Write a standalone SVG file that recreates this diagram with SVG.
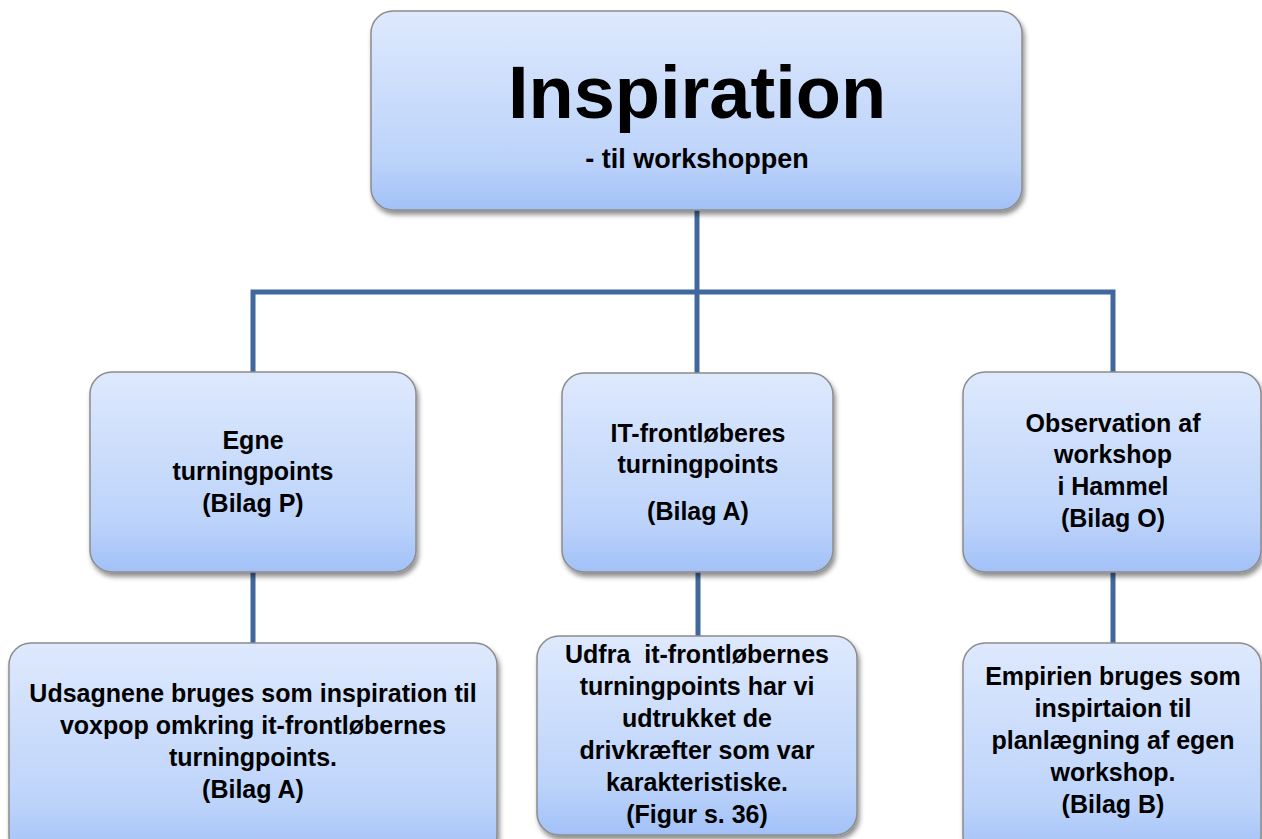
<svg xmlns="http://www.w3.org/2000/svg" width="1262" height="839" viewBox="0 0 1262 839">
<defs>
<linearGradient id="g" x1="0" y1="0" x2="0" y2="1">
<stop offset="0" stop-color="#dee9fd"/>
<stop offset="0.75" stop-color="#bcd3fa"/>
<stop offset="1" stop-color="#a2c1f8"/>
</linearGradient>
<filter id="sh" x="-10%" y="-10%" width="125%" height="130%">
<feGaussianBlur in="SourceAlpha" stdDeviation="2.5"/>
<feOffset dx="2" dy="4" result="b"/>
<feComponentTransfer><feFuncA type="linear" slope="0.45"/></feComponentTransfer>
<feMerge><feMergeNode/><feMergeNode in="SourceGraphic"/></feMerge>
</filter>
</defs>
<style>
.box{fill:url(#g);stroke:#8c8c8c;stroke-width:1.5;filter:url(#sh)}
.t{font-family:"Liberation Sans",Arial,sans-serif;font-weight:bold;font-size:25px;fill:#000;text-anchor:middle}
.c{stroke:#41689d;stroke-width:5;fill:none}
</style>
<rect width="1262" height="839" fill="#ffffff"/>
<g id="connectors">
<path class="c" d="M697 209 V292"/>
<path class="c" d="M253 372 V292 H1113 V372"/>
<path class="c" d="M697 292 V373"/>
<path class="c" d="M253 572 V643"/>
<path class="c" d="M698 572 V636"/>
<path class="c" d="M1113 572 V643"/>
</g>
<g id="root">
<rect class="box" x="371" y="11" width="651" height="199" rx="22"/>
<text class="t" x="697" y="118" style="font-size:74px">Inspiration</text>
<text class="t" x="697" y="168" style="font-size:27px">- til workshoppen</text>
</g>
<g id="egne">
<rect class="box" x="90" y="372" width="326" height="200" rx="22"/>
<text class="t" x="253" y="449">Egne</text>
<text class="t" x="253" y="480">turningpoints</text>
<text class="t" x="253" y="512">(Bilag P)</text>
</g>
<g id="itfront">
<rect class="box" x="562" y="373" width="271" height="199" rx="22"/>
<text class="t" x="698" y="442">IT-frontløberes</text>
<text class="t" x="698" y="473">turningpoints</text>
<text class="t" x="698" y="520">(Bilag A)</text>
</g>
<g id="observation">
<rect class="box" x="963" y="372" width="298" height="200" rx="22"/>
<text class="t" x="1113" y="432">Observation af</text>
<text class="t" x="1113" y="463">workshop</text>
<text class="t" x="1113" y="495">i Hammel</text>
<text class="t" x="1113" y="527">(Bilag O)</text>
</g>
<g id="udsagn">
<rect class="box" x="9" y="643" width="488" height="215" rx="22"/>
<text class="t" x="253" y="702">Udsagnene bruges som inspiration til</text>
<text class="t" x="253" y="734">voxpop omkring it-frontløbernes</text>
<text class="t" x="253" y="766">turningpoints.</text>
<text class="t" x="253" y="798">(Bilag A)</text>
</g>
<g id="udfra">
<rect class="box" x="537" y="636" width="320" height="199" rx="22"/>
<text class="t" x="697" y="663" xml:space="preserve">Udfra  it-frontløbernes</text>
<text class="t" x="697" y="695">turningpoints har vi</text>
<text class="t" x="697" y="727">udtrukket de</text>
<text class="t" x="697" y="759">drivkræfter som var</text>
<text class="t" x="697" y="791">karakteristiske.</text>
<text class="t" x="697" y="823">(Figur s. 36)</text>
</g>
<g id="empirien">
<rect class="box" x="963" y="643" width="298" height="215" rx="22"/>
<text class="t" x="1113" y="685">Empirien bruges som</text>
<text class="t" x="1113" y="717">inspirtaion til</text>
<text class="t" x="1113" y="749">planlægning af egen</text>
<text class="t" x="1113" y="781">workshop.</text>
<text class="t" x="1113" y="813">(Bilag B)</text>
</g>
</svg>
